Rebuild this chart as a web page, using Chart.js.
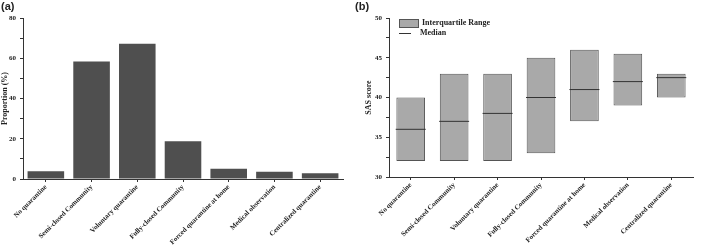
<!DOCTYPE html>
<html>
<head>
<meta charset="utf-8">
<script src="https://cdn.jsdelivr.net/npm/chart.js@4"></script>
<style>
    body { margin: 0; background: #fff; }
    #wrap { position: relative; width: 709px; height: 251px; overflow: hidden; }
    canvas { position: absolute; top: 0; }
    #chart-a { left: 0; }
    #chart-b { left: 350px; }
    .panel-tag { position: absolute; top: 0; font: bold 11px "Liberation Sans", Arial, sans-serif; color: #222; }
    #legend-b { position: absolute; left: 399px; top: 18px; font: bold 8px "Liberation Serif", serif; color: #222; }
    #legend-b .row { height: 10px; line-height: 10px; display: flex; align-items: center; }
    #legend-b .swatch { width: 18px; height: 7px; background: #a9a9a9; border: 1px solid #555; margin-right: 3px; }
    #legend-b .dash { width: 12px; height: 0; border-top: 1px solid #333; margin-right: 9px; margin-left: 0; }
</style>
</head>
<body>
<div id="wrap">
    <canvas id="chart-a" width="350" height="251"></canvas>
    <canvas id="chart-b" width="359" height="251"></canvas>
    <div class="panel-tag" style="left:1px">(a)</div>
    <div class="panel-tag" style="left:355px">(b)</div>
    <div id="legend-b">
        <div class="row"><span class="swatch"></span>Interquartile Range</div>
        <div class="row"><span class="dash"></span>Median</div>
    </div>
</div>
<script>
// Categories shared by both panels
const categories = [
    'No quarantine',
    'Semi-closed Community',
    'Voluntary quarantine',
    'Fully-closed Community',
    'Forced quarantine at home',
    'Medical observation',
    'Centralized quarantine'
];

// Panel (a): proportion (%)
const proportion = [3.8, 58.4, 67.2, 18.7, 5.1, 3.6, 2.8];

// Panel (b): SAS score quartiles and medians
const q1 = [32, 32, 32, 33, 37, 39, 40];
const q3 = [40, 43, 43, 45, 46, 45.5, 43];
const median = [36, 37, 38, 40, 41, 42, 42.5];

const serifBold = (size) => ({ family: '"Liberation Serif", "Times New Roman", serif', size: size, weight: 'bold' });
const axisColor = '#333';

/**
 * Shared axis options
 */
function xAxis(height) {
    return {
        offset: true,
        grid: { display: true, drawOnChartArea: false, offset: false, tickLength: 3, color: axisColor },
        border: { color: axisColor, width: 1 },
        ticks: {
            color: '#222',
            font: serifBold(7),
            maxRotation: 45,
            minRotation: 45,
            padding: 1,
            autoSkip: false
        },
        afterFit: s => { s.height = height; }
    };
}

function yAxis(min, max, step, labelEvery, title, width) {
    return {
        min: min,
        max: max,
        grid: { drawOnChartArea: false, tickLength: 3, color: axisColor },
        border: { color: axisColor, width: 1 },
        ticks: {
            stepSize: step,
            color: '#222',
            font: serifBold(7),
            padding: 4,
            callback: v => (Math.abs(v % labelEvery) < 1e-9 ? v : '')
        },
        title: { display: true, text: title, color: '#222', font: serifBold(8), padding: 0 },
        afterFit: s => { s.width = width; }
    };
}

// Panel (a) - bar chart
new Chart(document.getElementById('chart-a'), {
    type: 'bar',
    data: {
        labels: categories,
        datasets: [{
            label: 'Proportion (%)',
            data: proportion,
            backgroundColor: '#4f4f4f',
            borderWidth: 0,
            categoryPercentage: 1,
            barPercentage: 0.8
        }]
    },
    options: {
        responsive: false,
        animation: false,
        layout: { padding: { left: 0, top: 18, right: 7, bottom: 0 } },
        plugins: { legend: { display: false }, tooltip: { enabled: false } },
        scales: {
            x: xAxis(72),
            y: yAxis(0, 80, 10, 20, 'Proportion (%)', 23)
        }
    }
});

// Panel (b) - floating bars for IQR plus median markers
new Chart(document.getElementById('chart-b'), {
    type: 'bar',
    data: {
        labels: categories,
        datasets: [{
            label: 'Interquartile Range',
            data: q1.map((v, i) => [v, q3[i]]),
            backgroundColor: '#a9a9a9',
            borderColor: '#555',
            borderWidth: 1,
            borderSkipped: false,
            categoryPercentage: 1,
            barPercentage: 0.66,
            order: 2
        }, {
            type: 'line',
            label: 'Median',
            data: median,
            showLine: false,
            pointStyle: 'line',
            pointRadius: 15,
            pointHoverRadius: 15,
            borderColor: '#333',
            borderWidth: 1,
            order: 1
        }]
    },
    options: {
        responsive: false,
        animation: false,
        layout: { padding: { left: 14, top: 18, right: 0, bottom: 0 } },
        plugins: { legend: { display: false }, tooltip: { enabled: false } },
        scales: {
            x: xAxis(74),
            y: yAxis(30, 50, 2.5, 5, 'SAS score', 25)
        }
    }
});
</script>
</body>
</html>
